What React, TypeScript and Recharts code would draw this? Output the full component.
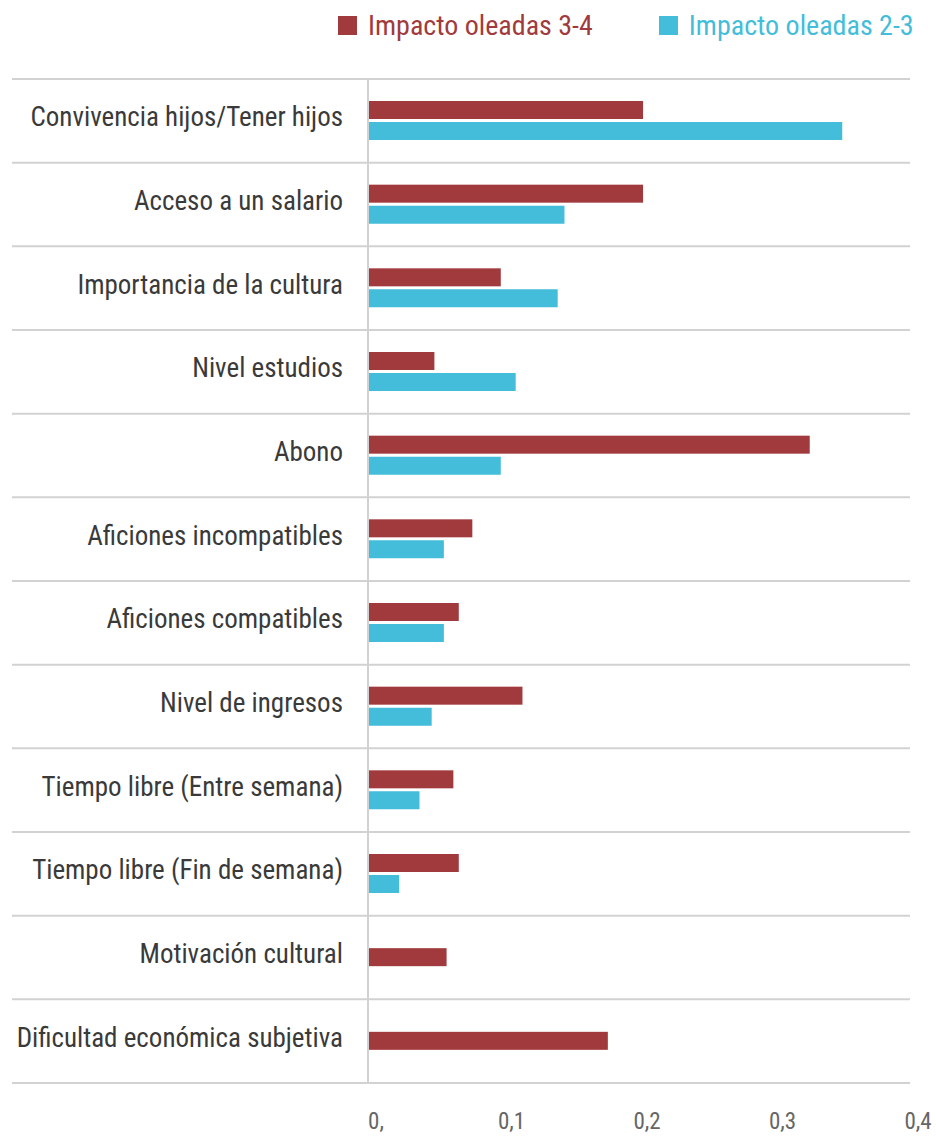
import { BarChart, Bar, XAxis, YAxis, CartesianGrid } from 'recharts'

const CATEGORIES = [
  'Convivencia hijos/Tener hijos',
  'Acceso a un salario',
  'Importancia de la cultura',
  'Nivel estudios',
  'Abono',
  'Aficiones incompatibles',
  'Aficiones compatibles',
  'Nivel de ingresos',
  'Tiempo libre (Entre semana)',
  'Tiempo libre (Fin de semana)',
  'Motivación cultural',
  'Dificultad económica subjetiva',
]

// Impacto oleadas 3-4
const WAVE_34 = [0.203, 0.203, 0.098, 0.049, 0.326, 0.077, 0.067, 0.114, 0.063, 0.067, 0.058, 0.177]
// Impacto oleadas 2-3 (sin dato en las dos últimas)
const WAVE_23: (number | null)[] = [0.35, 0.145, 0.14, 0.109, 0.098, 0.056, 0.056, 0.047, 0.038, 0.023, null, null]

const X_TICKS = [0, 0.1, 0.2, 0.3, 0.4]
const X_TICK_LABELS = ['0,', '0,1', '0,2', '0,3', '0,4']

const SERIES = [
  { key: 'w34', label: 'Impacto oleadas 3-4', color: '#A13A3D' },
  { key: 'w23', label: 'Impacto oleadas 2-3', color: '#43BDDA' },
]

const FONT = "'Liberation Sans Narrow', 'Arial Narrow', 'Roboto Condensed', Roboto, sans-serif"
const BAR_SIZE = 18
const BAR_GAP = 3
const GRID = '#d2d2d2'

const data = CATEGORIES.map((name, i) => ({ name, w34: WAVE_34[i], w23: WAVE_23[i] }))

// barra roja centrada cuando no hay dato de la otra serie
// eslint-disable-next-line @typescript-eslint/no-explicit-any
const RedBar = (p: any) => {
  const { x, y, width, height, payload, fill } = p
  if (width == null || height == null) return <g />
  const dy = payload?.w23 == null ? (BAR_SIZE + BAR_GAP) / 2 : 0
  return <rect x={x} y={y + dy} width={width} height={height} fill={fill} />
}

// líneas entre categorías (límites de banda), a lo ancho incluyendo etiquetas
// eslint-disable-next-line @typescript-eslint/no-explicit-any
const bandLines = ({ offset }: any) => {
  const step = offset.height / CATEGORIES.length
  return Array.from({ length: CATEGORIES.length + 1 }, (_, i) => offset.top + i * step)
}

export default function App() {
  return (
    <div style={{ position: 'absolute', left: 0, top: 0, width: 936, height: 1137, background: '#fff' }}>
      {/* leyenda */}
      <div style={{ position: 'absolute', top: 9, left: 338, display: 'flex', alignItems: 'center', fontFamily: FONT, fontSize: 28, whiteSpace: 'nowrap' }}>
        {SERIES.map((s, i) => (
          <div key={s.key} style={{ display: 'flex', alignItems: 'center', marginLeft: i === 0 ? 0 : 66, color: s.color }}>
            <span style={{ width: 19, height: 19, background: s.color, display: 'inline-block', marginRight: 11 }} />
            <span>{s.label}</span>
          </div>
        ))}
      </div>
      <BarChart
        width={936}
        height={1137}
        data={data}
        layout="vertical"
        margin={{ top: 79, right: 26, bottom: 0, left: 0 }}
        barSize={BAR_SIZE}
        barGap={BAR_GAP}
      >
        <CartesianGrid
          vertical={false}
          stroke={GRID}
          strokeWidth={2}
          x={12}
          width={898}
          horizontalCoordinatesGenerator={bandLines}
        />
        <XAxis
          type="number"
          domain={[0, 0.4]}
          ticks={X_TICKS}
          tickFormatter={(_v: number, i: number) => X_TICK_LABELS[i]}
          tick={{ fontSize: 23, fill: '#666', fontFamily: FONT, dx: 8 }}
          axisLine={false}
          tickLine={false}
          tickSize={0}
          tickMargin={30}
          height={54}
          interval={0}
        />
        <YAxis
          type="category"
          dataKey="name"
          width={368}
          tick={{ fontSize: 27, fill: '#3a3a3a', fontFamily: FONT, dy: -4 }}
          axisLine={{ stroke: GRID, strokeWidth: 2 }}
          tickLine={false}
          tickSize={0}
          tickMargin={25}
          interval={0}
        />
        <Bar dataKey="w34" fill={SERIES[0].color} shape={RedBar} isAnimationActive={false} />
        <Bar dataKey="w23" fill={SERIES[1].color} isAnimationActive={false} />
      </BarChart>
    </div>
  )
}
